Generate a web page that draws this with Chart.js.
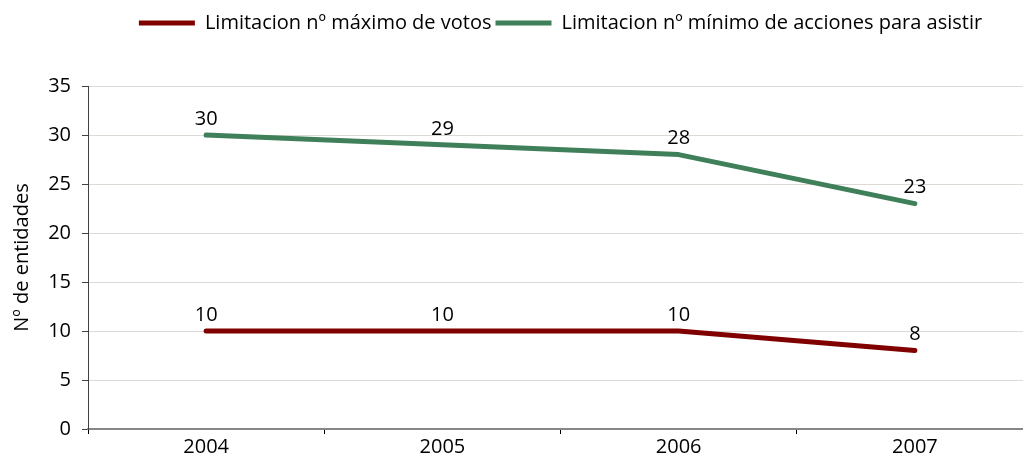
<!DOCTYPE html>
<html>
<head>
<meta charset="utf-8">
<script src="https://cdn.jsdelivr.net/npm/chart.js@4/dist/chart.umd.min.js"></script>
<style>
  html, body { margin: 0; padding: 0; background: #fff; overflow: hidden; }
  #wrap { width: 1033px; height: 470px; }
</style>
</head>
<body>
<div id="wrap"><canvas id="entidadesChart"></canvas></div>
<script>
const years = ['2004', '2005', '2006', '2007']
const maxVotos = [10, 10, 10, 8]
const minAcciones = [30, 29, 28, 23]
const yTicks = [0, 5, 10, 15, 20, 25, 30, 35]

const FONT = "'Open Sans', 'Noto Sans', sans-serif"

// etiquetas de valor encima de cada punto
const valueLabels = {
  id: 'valueLabels',
  afterDatasetsDraw(chart) {
    const { ctx } = chart
    ctx.save()
    ctx.font = '20px ' + FONT
    ctx.fillStyle = '#000'
    ctx.textAlign = 'center'
    ctx.textBaseline = 'middle'
    chart.data.datasets.forEach((ds, i) => {
      chart.getDatasetMeta(i).data.forEach((pt, j) => {
        ctx.fillText(ds.data[j], pt.x, pt.y - 16)
      })
    })
    ctx.restore()
  }
}

// deja mas espacio bajo la leyenda
const legendSpace = {
  id: 'legendSpace',
  beforeInit(chart) {
    const fit = chart.legend.fit
    chart.legend.fit = function () {
      fit.call(this)
      this.height = 77
    }
  }
}

new Chart(document.getElementById('entidadesChart'), {
  type: 'line',
  data: {
    labels: years,
    datasets: [{
      label: 'Limitacion nº máximo de votos',
      data: maxVotos,
      borderColor: '#800000',
      backgroundColor: '#800000',
      borderWidth: 5,
      borderCapStyle: 'round',
      borderJoinStyle: 'round',
      tension: 0,
      pointRadius: 0,
      pointStyle: 'line'
    }, {
      label: 'Limitacion nº mínimo de acciones para asistir',
      data: minAcciones,
      borderColor: '#3f7f5a',
      backgroundColor: '#3f7f5a',
      borderWidth: 5,
      borderCapStyle: 'round',
      borderJoinStyle: 'round',
      tension: 0,
      pointRadius: 0,
      pointStyle: 'line'
    }]
  },
  options: {
    responsive: true,
    maintainAspectRatio: false,
    animation: false,
    layout: { padding: { top: 9, right: 0, bottom: 0, left: 10 } },
    plugins: {
      legend: {
        position: 'top',
        fullSize: false,
        labels: {
          usePointStyle: true,
          pointStyleWidth: 56,
          boxHeight: 6,
          color: '#000',
          font: { family: FONT, size: 20 },
          padding: 4
        }
      },
      tooltip: { enabled: false }
    },
    scales: {
      x: {
        offset: true,
        afterFit(scale) {
          scale.height = 41
        },
        grid: {
          offset: true,
          drawOnChartArea: false,
          drawTicks: true,
          tickLength: 5,
          color: '#000'
        },
        border: { color: '#868686', width: 2 },
        ticks: {
          color: '#000',
          font: { family: FONT, size: 20 },
          padding: 1
        }
      },
      y: {
        min: 0,
        max: 35,
        afterBuildTicks(scale) {
          scale.ticks = yTicks.map(v => ({ value: v }))
        },
        afterFit(scale) {
          scale.width = 78
        },
        grid: {
          color: '#dcdad5',
          tickColor: '#404040',
          tickLength: 6,
          lineWidth: 1
        },
        border: { color: '#404040', width: 1 },
        ticks: {
          color: '#000',
          font: { family: FONT, size: 20 },
          padding: 11
        },
        title: {
          display: true,
          text: 'Nº de entidades',
          color: '#000',
          font: { family: FONT, size: 20 },
          padding: { top: 0, bottom: 0 }
        }
      }
    }
  },
  plugins: [valueLabels, legendSpace]
})
</script>
</body>
</html>
